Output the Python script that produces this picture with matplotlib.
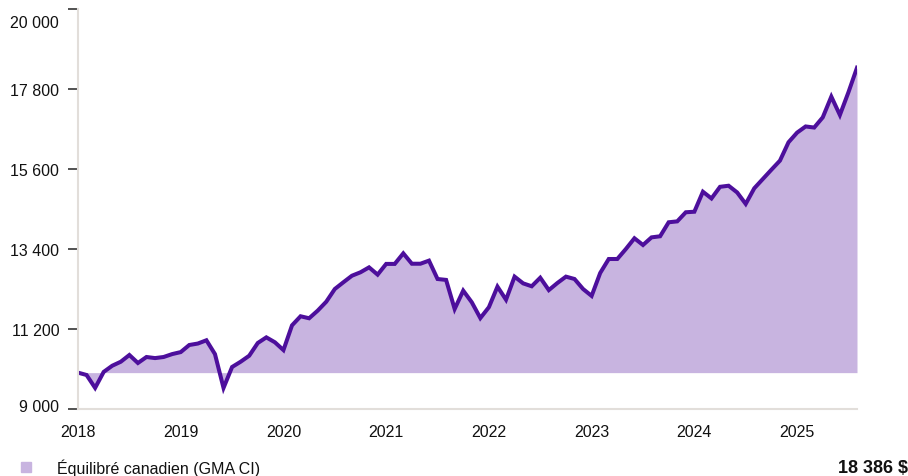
import matplotlib.pyplot as plt
import matplotlib.transforms as mtransforms
import numpy as np

plt.rcParams['font.family'] = ['Liberation Sans', 'DejaVu Sans']

# Monthly value of a 10 000 $ investment, Jan 2018 - Aug 2025
values = [
    10000, 9935, 9580, 10020, 10190, 10300, 10485, 10265, 10430, 10400, 10430, 10510,   # 2018
    10565, 10760, 10800, 10890, 10510, 9580, 10155, 10300, 10465, 10815, 10970, 10835,  # 2019
    10620, 11300, 11550, 11495, 11705, 11950, 12300, 12485, 12665, 12760, 12895, 12695,  # 2020
    12990, 12990, 13280, 12995, 12995, 13080, 12575, 12550, 11750, 12255, 11935, 11500,  # 2021
    11800, 12365, 12005, 12640, 12455, 12375, 12610, 12270, 12465, 12640, 12575, 12300,  # 2022
    12110, 12740, 13125, 13125, 13400, 13695, 13510, 13720, 13750, 14135, 14160, 14410,  # 2023
    14425, 14975, 14790, 15110, 15140, 14955, 14640, 15070, 15325, 15580, 15830, 16335,  # 2024
    16600, 16770, 16740, 17020, 17590, 17085, 17710, 18386,                              # 2025
]
years = ['2018', '2019', '2020', '2021', '2022', '2023', '2024', '2025']
yticks = [9000, 11200, 13400, 15600, 17800, 20000]
base = 10000
series_name = 'Équilibré canadien (GMA CI)'
final_label = '18 386 $'

line_color = '#4d0f9c'
fill_color = '#c8b4e0'
spine_color = '#e2deda'

months = np.arange(len(values))
vals = np.array(values)

fig = plt.figure(figsize=(9.08, 4.77), dpi=100)
ax = fig.add_axes([78 / 908, 67 / 477, (857 - 78) / 908, 400 / 477])

ax.fill_between(months, vals, base, color=fill_color, linewidth=0)
ax.plot(months, vals, color=line_color, linewidth=2.9, solid_joinstyle='miter')

ax.set_xlim(0, len(values) - 1)
ax.set_ylim(yticks[0], yticks[-1])

ax.set_xticks(np.arange(len(years)) * 12)
ax.set_xticklabels(years)
ax.set_yticks(yticks)
ax.set_yticklabels([f'{v:,}'.replace(',', ' ') for v in yticks])

ax.tick_params(axis='x', length=0, pad=11, labelsize=11.5, labelcolor='#111111')
ax.tick_params(axis='y', length=7, width=1.2, color='#333333', pad=6.5,
               labelsize=11.5, labelcolor='#111111')

for side in ['top', 'right']:
    ax.spines[side].set_visible(False)
for side in ['left', 'bottom']:
    ax.spines[side].set_color(spine_color)
    ax.spines[side].set_linewidth(1.5)

# nudge the end labels inside the axis span
labels = ax.get_yticklabels()
labels[-1].set_transform(labels[-1].get_transform() +
                         mtransforms.ScaledTranslation(0, -0.12, fig.dpi_scale_trans))
labels[0].set_transform(labels[0].get_transform() +
                        mtransforms.ScaledTranslation(0, 0.04, fig.dpi_scale_trans))

# footer legend
fig.patches.append(plt.Rectangle((21 / 908, 4 / 477), 10 / 908, 10 / 477,
                                 transform=fig.transFigure, color=fill_color))
fig.text(57 / 908, 9 / 477, series_name, fontsize=11.5, va='center', ha='left', color='#111111')
fig.text(838 / 908, 8 / 477, final_label, fontsize=13, fontweight='bold',
         va='center', ha='left', color='#111111')

fig.savefig('out.png', dpi=100)
